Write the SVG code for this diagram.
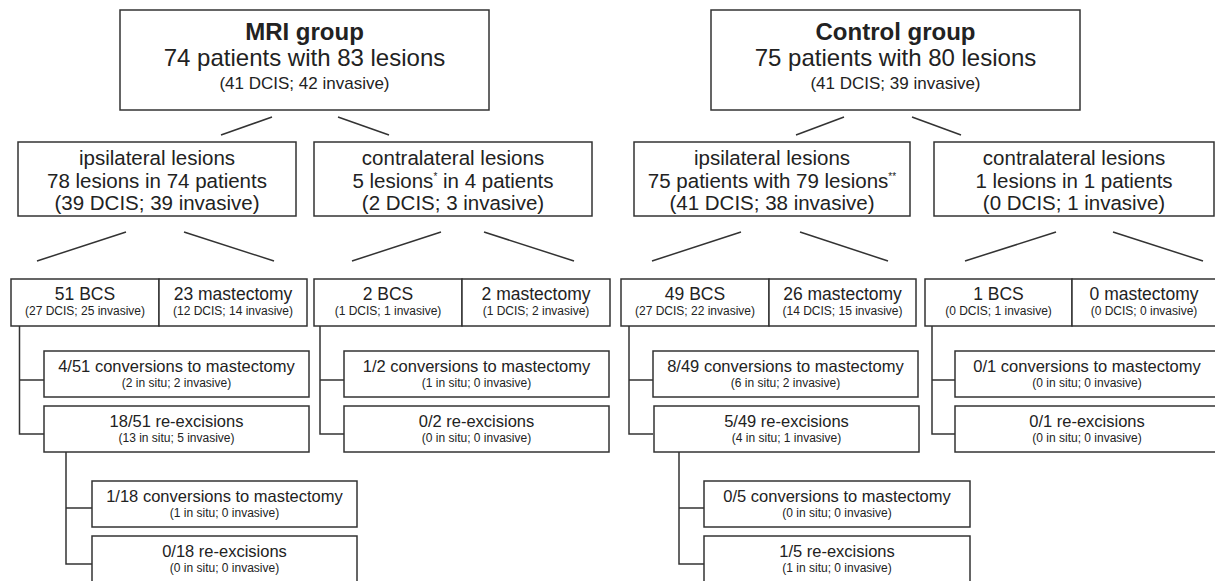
<svg xmlns="http://www.w3.org/2000/svg" width="1215" height="581" viewBox="0 0 1215 581">
<style>
rect{fill:#fff;stroke:#333;stroke-width:1.5}
.c path,.c line{fill:none;stroke:#333;stroke-width:1.5}
text{font-family:"Liberation Sans",Arial,sans-serif;fill:#222;text-anchor:middle}
.h{font-size:24px;font-weight:bold}
.l{font-size:24px}
.s1{font-size:17px}
.m{font-size:20.5px}
.b{font-size:17.5px}
.v{font-size:16.5px}
.x{font-size:12px}
.sup{font-size:10px}
</style>
<rect width="1215" height="581" style="fill:#fff;stroke:none"/>
<g class="c" id="connectors">
<line x1="221" y1="135" x2="272" y2="117"/>
<line x1="338" y1="117" x2="389" y2="135"/>
<line x1="796" y1="135" x2="844" y2="117"/>
<line x1="912" y1="117" x2="961" y2="135"/>
<line x1="37" y1="261" x2="126" y2="232"/>
<line x1="184" y1="232" x2="274" y2="261"/>
<line x1="352" y1="261" x2="441" y2="232"/>
<line x1="484" y1="232" x2="574" y2="261"/>
<line x1="652" y1="261" x2="741" y2="232"/>
<line x1="800" y1="232" x2="888" y2="261"/>
<line x1="965" y1="261" x2="1056" y2="232"/>
<line x1="1113" y1="232" x2="1203" y2="261"/>
<path d="M19.5 326V434H44M19.5 380H44"/>
<path d="M66 452V564H92M66 508H92"/>
<path d="M320 326V434H344M320 380H344"/>
<path d="M629 326V434H653M629 380H653"/>
<path d="M679 452V564H704M679 508H704"/>
<path d="M932 326V434H955M932 380H955"/>
</g>
<g id="mri">
<rect x="120" y="10" width="369" height="100"/>
<text x="304.5" y="40" class="h">MRI group</text>
<text x="304.5" y="66" class="l">74 patients with 83 lesions</text>
<text x="304.5" y="89" class="s1">(41 DCIS; 42 invasive)</text>
</g>
<g id="control">
<rect x="711" y="10" width="369" height="100"/>
<text x="895.5" y="40" class="h">Control group</text>
<text x="895.5" y="66" class="l">75 patients with 80 lesions</text>
<text x="895.5" y="89" class="s1">(41 DCIS; 39 invasive)</text>
</g>
<g id="mri-ipsi">
<rect x="18" y="142" width="278" height="74"/>
<text x="157" y="165" class="m">ipsilateral lesions</text>
<text x="157" y="188" class="m">78 lesions in 74 patients</text>
<text x="157" y="210" class="m">(39 DCIS; 39 invasive)</text>
</g>
<g id="mri-contra">
<rect x="314" y="142" width="278" height="74"/>
<text x="453" y="165" class="m">contralateral lesions</text>
<text x="453" y="188" class="m">5 lesions<tspan class="sup" dy="-8">*</tspan><tspan dy="8"> in 4 patients</tspan></text>
<text x="453" y="210" class="m">(2 DCIS; 3 invasive)</text>
</g>
<g id="ctrl-ipsi">
<rect x="634" y="142" width="276" height="74"/>
<text x="772" y="165" class="m">ipsilateral lesions</text>
<text x="772" y="188" class="m">75 patients with 79 lesions<tspan class="sup" dy="-8">**</tspan></text>
<text x="772" y="210" class="m">(41 DCIS; 38 invasive)</text>
</g>
<g id="ctrl-contra">
<rect x="934" y="142" width="280" height="74"/>
<text x="1074" y="165" class="m">contralateral lesions</text>
<text x="1074" y="188" class="m">1 lesions in 1 patients</text>
<text x="1074" y="210" class="m">(0 DCIS; 1 invasive)</text>
</g>
<g id="mri-ipsi-bcs">
<rect x="11" y="279" width="148" height="47"/>
<text x="85" y="300" class="b">51 BCS</text>
<text x="85" y="315" class="x">(27 DCIS; 25 invasive)</text>
</g>
<g id="mri-ipsi-mast">
<rect x="159" y="279" width="148" height="47"/>
<text x="233" y="300" class="b">23 mastectomy</text>
<text x="233" y="315" class="x">(12 DCIS; 14 invasive)</text>
</g>
<g id="mri-contra-bcs">
<rect x="314" y="279" width="148" height="47"/>
<text x="388" y="300" class="b">2 BCS</text>
<text x="388" y="315" class="x">(1 DCIS; 1 invasive)</text>
</g>
<g id="mri-contra-mast">
<rect x="462" y="279" width="148" height="47"/>
<text x="536" y="300" class="b">2 mastectomy</text>
<text x="536" y="315" class="x">(1 DCIS; 2 invasive)</text>
</g>
<g id="ctrl-ipsi-bcs">
<rect x="621" y="279" width="148" height="47"/>
<text x="695" y="300" class="b">49 BCS</text>
<text x="695" y="315" class="x">(27 DCIS; 22 invasive)</text>
</g>
<g id="ctrl-ipsi-mast">
<rect x="769" y="279" width="147" height="47"/>
<text x="842.5" y="300" class="b">26 mastectomy</text>
<text x="842.5" y="315" class="x">(14 DCIS; 15 invasive)</text>
</g>
<g id="ctrl-contra-bcs">
<rect x="925" y="279" width="147" height="47"/>
<text x="998.5" y="300" class="b">1 BCS</text>
<text x="998.5" y="315" class="x">(0 DCIS; 1 invasive)</text>
</g>
<g id="ctrl-contra-mast">
<rect x="1072" y="279" width="144" height="47"/>
<text x="1144" y="300" class="b">0 mastectomy</text>
<text x="1144" y="315" class="x">(0 DCIS; 0 invasive)</text>
</g>
<g id="mri-ipsi-conv">
<rect x="44" y="351" width="265" height="46"/>
<text x="176.5" y="372" class="v">4/51 conversions to mastectomy</text>
<text x="176.5" y="387" class="x">(2 in situ; 2 invasive)</text>
</g>
<g id="mri-ipsi-reex">
<rect x="44" y="406" width="265" height="46"/>
<text x="176.5" y="427" class="v">18/51 re-excisions</text>
<text x="176.5" y="442" class="x">(13 in situ; 5 invasive)</text>
</g>
<g id="mri-reex-conv">
<rect x="92" y="481" width="265" height="46"/>
<text x="224.5" y="502" class="v">1/18 conversions to mastectomy</text>
<text x="224.5" y="517" class="x">(1 in situ; 0 invasive)</text>
</g>
<g id="mri-reex-reex">
<rect x="92" y="536" width="265" height="50"/>
<text x="224.5" y="557" class="v">0/18 re-excisions</text>
<text x="224.5" y="572" class="x">(0 in situ; 0 invasive)</text>
</g>
<g id="mri-contra-conv">
<rect x="344" y="351" width="265" height="46"/>
<text x="476.5" y="372" class="v">1/2 conversions to mastectomy</text>
<text x="476.5" y="387" class="x">(1 in situ; 0 invasive)</text>
</g>
<g id="mri-contra-reex">
<rect x="344" y="406" width="265" height="46"/>
<text x="476.5" y="427" class="v">0/2 re-excisions</text>
<text x="476.5" y="442" class="x">(0 in situ; 0 invasive)</text>
</g>
<g id="ctrl-ipsi-conv">
<rect x="653" y="351" width="265" height="46"/>
<text x="785.5" y="372" class="v">8/49 conversions to mastectomy</text>
<text x="785.5" y="387" class="x">(6 in situ; 2 invasive)</text>
</g>
<g id="ctrl-ipsi-reex">
<rect x="654" y="406" width="265" height="46"/>
<text x="786.5" y="427" class="v">5/49 re-excisions</text>
<text x="786.5" y="442" class="x">(4 in situ; 1 invasive)</text>
</g>
<g id="ctrl-reex-conv">
<rect x="704" y="481" width="266" height="46"/>
<text x="837" y="502" class="v">0/5 conversions to mastectomy</text>
<text x="837" y="517" class="x">(0 in situ; 0 invasive)</text>
</g>
<g id="ctrl-reex-reex">
<rect x="704" y="536" width="266" height="50"/>
<text x="837" y="557" class="v">1/5 re-excisions</text>
<text x="837" y="572" class="x">(1 in situ; 0 invasive)</text>
</g>
<g id="ctrl-contra-conv">
<rect x="955" y="351" width="264" height="46"/>
<text x="1087" y="372" class="v">0/1 conversions to mastectomy</text>
<text x="1087" y="387" class="x">(0 in situ; 0 invasive)</text>
</g>
<g id="ctrl-contra-reex">
<rect x="955" y="406" width="264" height="46"/>
<text x="1087" y="427" class="v">0/1 re-excisions</text>
<text x="1087" y="442" class="x">(0 in situ; 0 invasive)</text>
</g>
</svg>
